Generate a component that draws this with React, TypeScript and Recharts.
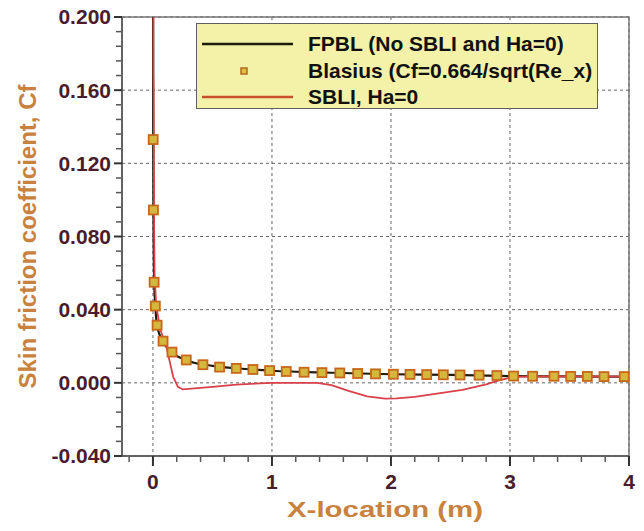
import React from 'react'
import { LineChart, Line, XAxis, YAxis, CartesianGrid, ReferenceArea, Legend } from 'recharts'

// axis ticks
const X_TICKS = [0, 1, 2, 3, 4]
const X_MINOR = [-0.2, 0.2, 0.4, 0.6, 0.8, 1.2, 1.4, 1.6, 1.8, 2.2, 2.4, 2.6, 2.8, 3.2, 3.4, 3.6, 3.8]
const Y_TICKS = [-0.04, 0, 0.04, 0.08, 0.12, 0.16, 0.2]
const Y_MINOR = [
    -0.032, -0.024, -0.016, -0.008, 0.008, 0.016, 0.024, 0.032, 0.048, 0.056, 0.064, 0.072,
    0.088, 0.096, 0.104, 0.112, 0.128, 0.136, 0.144, 0.152, 0.168, 0.176, 0.184, 0.192,
]

const SERIES_ORDER = ['FPBL (No SBLI and Ha=0)', 'Blasius (Cf=0.664/sqrt(Re_x)', 'SBLI, Ha=0']

// FPBL (flat plate, no SBLI)
const fpblX = [0.001, 0.002, 0.004, 0.01, 0.02, 0.035, 0.085, 0.16, 0.28, 0.5, 0.75, 1.0, 1.5, 2.0, 2.5, 3.0, 3.5, 4.0]
const fpblCf = [0.2, 0.14, 0.096, 0.056, 0.042, 0.031, 0.0225, 0.0166, 0.0124, 0.0093, 0.0077, 0.0066, 0.0055, 0.0047, 0.0043, 0.0037, 0.0035, 0.0034]

// Blasius markers
const blasiusX = [
    0.002, 0.004, 0.01, 0.02, 0.035, 0.085, 0.16, 0.28, 0.42, 0.56, 0.7, 0.84, 0.98, 1.12, 1.27, 1.42, 1.57,
    1.72, 1.87, 2.02, 2.16, 2.3, 2.44, 2.58, 2.74, 2.89, 3.03, 3.19, 3.37, 3.51, 3.65, 3.79, 3.96,
]
const blasiusCf = [
    0.133, 0.0945, 0.055, 0.042, 0.0315, 0.0228, 0.0168, 0.0125, 0.0099, 0.0086, 0.0079, 0.0073, 0.0067,
    0.0062, 0.0058, 0.0056, 0.0054, 0.0051, 0.0049, 0.0047, 0.0046, 0.0045, 0.0044, 0.0043, 0.0042, 0.004,
    0.0037, 0.0036, 0.0036, 0.0035, 0.0035, 0.0034, 0.0034,
]

// SBLI, Ha=0
const sbliX = [
    0.004, 0.004, 0.006, 0.008, 0.01, 0.014, 0.028, 0.062, 0.113, 0.17, 0.21, 0.25, 0.35, 0.5, 0.7, 0.9, 1.0,
    1.2, 1.38, 1.5, 1.65, 1.8, 1.95, 2.05, 2.2, 2.4, 2.6, 2.8, 2.9, 3.0, 3.1, 3.5, 4.0,
]
const sbliCf = [
    0.2, 0.168, 0.16, 0.12, 0.085, 0.058, 0.042, 0.029, 0.0197, 0.0033, -0.0022, -0.0036, -0.003, -0.0022,
    -0.001, -0.0003, 0, 0, 0, -0.0012, -0.0045, -0.0074, -0.0086, -0.0085, -0.0077, -0.0058, -0.0038,
    -0.0008, 0.0012, 0.0028, 0.0034, 0.0035, 0.0034,
]

const zip = (xs: number[], ys: number[]) => xs.map((x, i) => ({ x, cf: ys[i] }))
const fpbl = zip(fpblX, fpblCf)
const blasius = zip(blasiusX, blasiusCf)
const sbli = zip(sbliX, sbliCf)

const FONT = '"Liberation Sans", Arial, sans-serif'
const TICK_COLOR = '#4a1c2c'
const TITLE_COLOR = '#c8823e'
const RED = '#d9404a'
const BLACK = '#1c1c0c'
const AXIS = '#555'

const Square = (p: any) => (
    <rect key={`sq-${p.index}`} x={p.cx - 4.5} y={p.cy - 4.5} width={9} height={9}
        fill="#d4b83e" stroke="#c8671c" strokeWidth={1.8} />
)

const NoTick = () => <g />

function LegendBox({ payload }: any) {
    const items = [...(payload || [])].sort(
        (a: any, b: any) => SERIES_ORDER.indexOf(a.value) - SERIES_ORDER.indexOf(b.value)
    )
    return (
        <div style={{
            width: 402, height: 86, background: '#f4f1a8', border: '1.5px solid #5f5f5f',
            boxSizing: 'border-box', paddingTop: 7,
        }}>
            {items.map((entry: any) => (
                <div key={entry.value} style={{ display: 'flex', alignItems: 'center', height: 26.5 }}>
                    <svg width={91} height={20} style={{ marginLeft: 5, marginRight: 15, flex: 'none' }}>
                        {entry.type === 'square'
                            ? <rect x={39} y={7} width={6} height={6} fill="#e0c040" stroke="#b06a20" strokeWidth={1.5} />
                            : <line x1={0} x2={91} y1={10} y2={10}
                                stroke={entry.value === 'SBLI, Ha=0' ? '#c8502a' : entry.color} strokeWidth={2.5} />}
                    </svg>
                    <span style={{ fontFamily: FONT, fontWeight: 700, fontSize: 21, color: '#111', whiteSpace: 'nowrap' }}>
                        {entry.value}
                    </span>
                </div>
            ))}
        </div>
    )
}

const XTitle = (props: any) => {
    const vb = props.viewBox
    return (
        <text x={vb.x + 263} y={vb.y + 61} textAnchor="middle" fill={TITLE_COLOR}
            fontFamily={FONT} fontWeight={700} fontSize={22} textLength={196} lengthAdjust="spacingAndGlyphs">
            X-location (m)
        </text>
    )
}

const YTitle = (props: any) => {
    const vb = props.viewBox
    const x = vb.x - 85
    const y = vb.y + vb.height / 2
    return (
        <text x={x} y={y} transform={`rotate(-90 ${x} ${y})`} textAnchor="middle" fill={TITLE_COLOR}
            fontFamily={FONT} fontWeight={700} fontSize={24}>
            Skin friction coefficient, Cf
        </text>
    )
}

export default function App() {
    return (
        <div style={{ position: 'absolute', left: 0, top: 0, background: '#fff' }}>
            <LineChart width={644} height={531} margin={{ top: 17, right: 15, bottom: 73, left: 120 }}>
                <CartesianGrid stroke="#666" strokeDasharray="3 3" />
                <ReferenceArea x1={-0.26} x2={4} y1={-0.04} y2={0.2} fill="none" stroke="#777" strokeWidth={1.5} />
                <XAxis type="number" dataKey="x" domain={[-0.26, 4]} allowDataOverflow ticks={X_TICKS}
                    interval={0} height={1} tickSize={10} tickMargin={8}
                    axisLine={{ stroke: AXIS, strokeWidth: 1.5 }} tickLine={{ stroke: '#333', strokeWidth: 2 }}
                    tick={{ fontSize: 21, fontWeight: 700, fill: TICK_COLOR, fontFamily: FONT }}
                    label={{ value: 'X-location (m)', content: XTitle }} />
                <XAxis xAxisId="minor" type="number" dataKey="x" domain={[-0.26, 4]} allowDataOverflow
                    ticks={X_MINOR} interval={0} height={1} axisLine={false} tick={NoTick}
                    tickSize={5} tickLine={{ stroke: AXIS, strokeWidth: 1.5 }} />
                <YAxis type="number" domain={[-0.04, 0.2]} allowDataOverflow ticks={Y_TICKS} interval={0}
                    width={1} tickSize={8} tickMargin={3}
                    axisLine={{ stroke: AXIS, strokeWidth: 1.5 }} tickLine={{ stroke: '#333', strokeWidth: 2 }}
                    tickFormatter={(v: number) => v.toFixed(3)}
                    tick={{ fontSize: 21, fontWeight: 700, fill: TICK_COLOR, fontFamily: FONT }}
                    label={{ value: 'Skin friction coefficient, Cf', content: YTitle }} />
                <YAxis yAxisId="minor" type="number" domain={[-0.04, 0.2]} allowDataOverflow
                    ticks={Y_MINOR} interval={0} width={1} axisLine={false} tick={NoTick}
                    tickSize={5} tickLine={{ stroke: AXIS, strokeWidth: 1.5 }} />
                <Legend layout="horizontal" verticalAlign="middle" align="center"
                    wrapperStyle={{ left: 196, top: 23, width: 402, height: 86 }}
                    content={<LegendBox />} />
                <Line data={fpbl} dataKey="cf" name="FPBL (No SBLI and Ha=0)" type="monotone"
                    stroke={BLACK} strokeWidth={2.2} dot={false} isAnimationActive={false} />
                <Line data={blasius} dataKey="cf" name="Blasius (Cf=0.664/sqrt(Re_x)" legendType="square"
                    stroke="none" dot={Square} activeDot={false} isAnimationActive={false} />
                <Line data={sbli} dataKey="cf" name="SBLI, Ha=0" type="linear"
                    stroke={RED} strokeWidth={1.8} dot={false} isAnimationActive={false} />
            </LineChart>
        </div>
    )
}
